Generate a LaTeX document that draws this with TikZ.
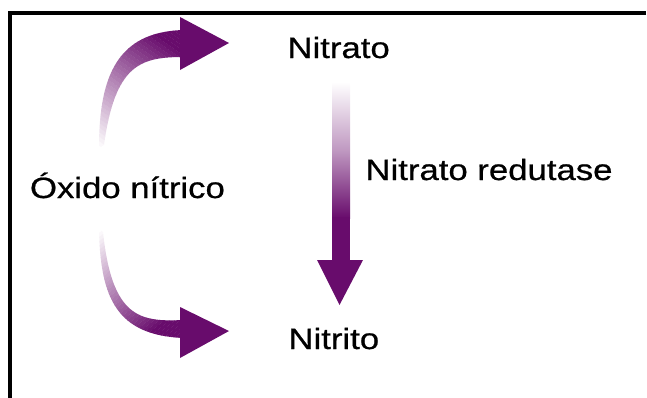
\documentclass[tikz,border=0pt]{standalone}
\usepackage{fontspec}
\setmainfont{Liberation Sans}[FakeStretch=1.185, FakeBold=0.7]
\definecolor{purp}{RGB}{104,12,108}
\tikzset{
  label/.style={anchor=base west, inner sep=0pt, outer sep=0pt, text=black,
    font=\fontsize{29.3}{35}\selectfont},
  frame/.style={line width=3.2pt, black},
  head/.style={fill=purp}
}
\begin{document}
\begin{tikzpicture}[x=1pt, y=-1pt]
\useasboundingbox (0,0) rectangle (647,397);

% partial frame: top and left edges
\draw[frame] (646,13) -- (10,13) -- (10,398);

% labels
\node[label] (nitrato)  at (287.5,58)  {Nitrato};
\node[label] (redutase) at (365.5,180) {Nitrato redutase};
\node[label] (nitrito)  at (288.5,349) {Nitrito};
\node[label] (oxido)    at (30,198)    {Óxido nítrico};

% upper curved arrow: shaft fading in from white
\begin{scope}
  \clip (99,148) .. controls (99,75) and (118,32) .. (183,30)
        -- (183,57) .. controls (140,57) and (115,65) .. (104,145) -- cycle;
  \begin{scope}[shift={(99,150)}, rotate=55.3]
    \foreach \i in {0,...,40} {
      \pgfmathsetmacro\p{min(100,\i*100/34)}
      \fill[purp!\p!white] (\i*3.7,-150) rectangle (\i*3.7+3.9,150);
    }
  \end{scope}
\end{scope}
\fill[head] (180,17) -- (229,43) -- (180,70) -- cycle;

% lower curved arrow
\begin{scope}
  \clip (99,228) .. controls (100,300) and (118,335) .. (183,338)
        -- (183,320) .. controls (140,322) and (112,318) .. (103,232) -- cycle;
  \begin{scope}[shift={(100,228)}, rotate=-51.2]
    \foreach \i in {0,...,40} {
      \pgfmathsetmacro\p{min(100,\i*100/34)}
      \fill[purp!\p!white] (\i*3.3,-150) rectangle (\i*3.3+3.5,150);
    }
  \end{scope}
\end{scope}
\fill[head] (180,307) -- (229,331) -- (180,358) -- cycle;

% straight arrow: Nitrato to Nitrito
\shade[top color=white, bottom color=purp, middle color=purp!42!white]
  (332,82) rectangle (350,218);
\fill[purp] (332,217) rectangle (350,261);
\fill[head] (317,260) -- (339.5,305) -- (363,260) -- cycle;
\end{tikzpicture}
\end{document}
